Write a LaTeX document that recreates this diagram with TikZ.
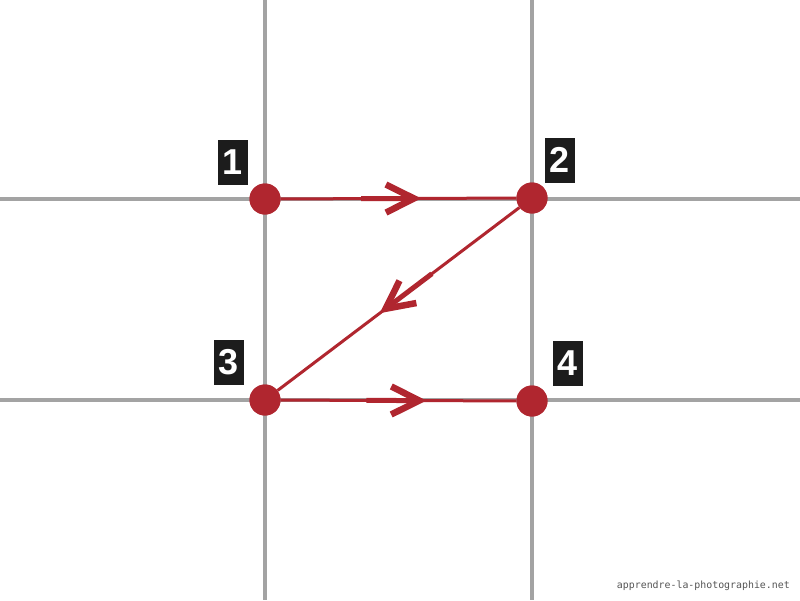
\documentclass[tikz,border=0pt]{standalone}
\usepackage{fontspec}
\setmainfont{Liberation Sans}
\newfontfamily\markfont{DejaVu Sans Mono}
\usetikzlibrary{arrows.meta,calc}
\definecolor{zred}{HTML}{B0262F}
\definecolor{zgray}{HTML}{A3A3A3}
\definecolor{zblack}{HTML}{1C1C1C}
\definecolor{zmark}{HTML}{555555}
\tikzset{
  gridline/.style={draw=zgray,line width=3.5pt},
  dot/.style={circle,fill=zred,minimum size=31pt,inner sep=0pt},
  conn/.style={draw=zred,line width=3pt},
  arrowseg/.style={draw=zred,line width=5pt,-{Straight Barb[length=28pt,width=28pt,line width=6.5pt,sharp]}},
  numbox/.style={fill=zblack,text=white,minimum width=30pt,minimum height=45pt,inner sep=0pt,font=\fontsize{36}{36}\selectfont\bfseries},
  watermark/.style={text=zmark,font=\markfont\fontsize{9.9}{12}\selectfont,inner sep=0pt}
}
\begin{document}
\begin{tikzpicture}[x=1pt,y=-1pt]
\useasboundingbox[fill=white] (0,0) rectangle (800,600);
% grid
\draw[gridline] (265,0) -- (265,600);
\draw[gridline] (532,0) -- (532,600);
\draw[gridline] (0,199) -- (800,199);
\draw[gridline] (0,400) -- (800,400);
% dots
\node[dot] (d1) at (265,199) {};
\node[dot] (d2) at (532,198) {};
\node[dot] (d3) at (265,400) {};
\node[dot] (d4) at (532,401) {};
% connectors
\draw[conn] (d1) -- (d2);
\draw[conn] (d2) -- (d3);
\draw[conn] (d3) -- (d4);
\draw[arrowseg] ($(d1)!0.36!(d2)$) -- ($(d1)!0.585!(d2)$);
\draw[arrowseg] ($(d2)!0.375!(d3)$) -- ($(d2)!0.57!(d3)$);
\draw[arrowseg] ($(d3)!0.38!(d4)$) -- ($(d3)!0.605!(d4)$);
% redraw dots on top
\node[dot] at (d1) {};
\node[dot] at (d2) {};
\node[dot] at (d3) {};
\node[dot] at (d4) {};
% labels
\node[numbox] (l1) at (233,162) {1};
\node[numbox] (l2) at (560,160) {2};
\node[numbox] (l3) at (229,362) {3};
\node[numbox] (l4) at (568,363) {4};
% watermark
\node[watermark,anchor=base east] (wm) at (790,588) {apprendre-la-photographie.net};
\end{tikzpicture}
\end{document}
